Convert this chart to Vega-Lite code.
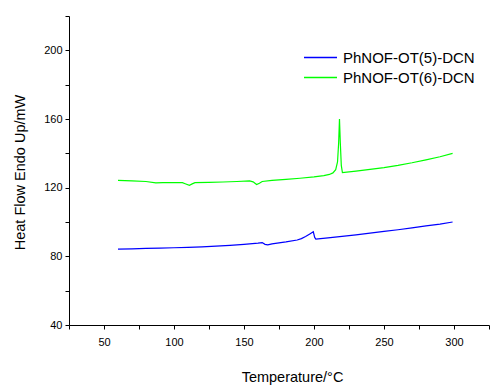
{
  "$schema": "https://vega.github.io/schema/vega-lite/v6.json",
  "width": 420,
  "height": 309,
  "autosize": {"type": "none"},
  "padding": {"left": 69, "top": 16, "right": 3, "bottom": 60},
  "background": "white",
  "config": {
    "view": {"stroke": null},
    "font": "Liberation Sans",
    "axis": {
      "grid": false,
      "domainColor": "#000000",
      "domainWidth": 1,
      "tickColor": "#000000",
      "tickSize": 4,
      "labelColor": "#000000",
      "labelFont": "Liberation Sans",
      "labelFontSize": 11,
      "titleFont": "Liberation Sans",
      "titleFontSize": 14.5,
      "titleFontWeight": "normal",
      "titleColor": "#000000"
    }
  },
  "data": {
    "values": [
      {"T": 60, "v": 84.2, "s": "PhNOF-OT(5)-DCN"},
      {"T": 70, "v": 84.4, "s": "PhNOF-OT(5)-DCN"},
      {"T": 80, "v": 84.6, "s": "PhNOF-OT(5)-DCN"},
      {"T": 90, "v": 84.8, "s": "PhNOF-OT(5)-DCN"},
      {"T": 100, "v": 85.0, "s": "PhNOF-OT(5)-DCN"},
      {"T": 110, "v": 85.2, "s": "PhNOF-OT(5)-DCN"},
      {"T": 120, "v": 85.5, "s": "PhNOF-OT(5)-DCN"},
      {"T": 130, "v": 85.9, "s": "PhNOF-OT(5)-DCN"},
      {"T": 140, "v": 86.4, "s": "PhNOF-OT(5)-DCN"},
      {"T": 150, "v": 87.0, "s": "PhNOF-OT(5)-DCN"},
      {"T": 160, "v": 87.7, "s": "PhNOF-OT(5)-DCN"},
      {"T": 163, "v": 88.0, "s": "PhNOF-OT(5)-DCN"},
      {"T": 165, "v": 87.0, "s": "PhNOF-OT(5)-DCN"},
      {"T": 167, "v": 86.7, "s": "PhNOF-OT(5)-DCN"},
      {"T": 170, "v": 87.3, "s": "PhNOF-OT(5)-DCN"},
      {"T": 180, "v": 88.4, "s": "PhNOF-OT(5)-DCN"},
      {"T": 188, "v": 89.5, "s": "PhNOF-OT(5)-DCN"},
      {"T": 191, "v": 90.3, "s": "PhNOF-OT(5)-DCN"},
      {"T": 194, "v": 91.5, "s": "PhNOF-OT(5)-DCN"},
      {"T": 197, "v": 93.0, "s": "PhNOF-OT(5)-DCN"},
      {"T": 199.5, "v": 94.3, "s": "PhNOF-OT(5)-DCN"},
      {"T": 200.5, "v": 91.0, "s": "PhNOF-OT(5)-DCN"},
      {"T": 201.3, "v": 90.0, "s": "PhNOF-OT(5)-DCN"},
      {"T": 210, "v": 90.8, "s": "PhNOF-OT(5)-DCN"},
      {"T": 220, "v": 91.6, "s": "PhNOF-OT(5)-DCN"},
      {"T": 230, "v": 92.5, "s": "PhNOF-OT(5)-DCN"},
      {"T": 240, "v": 93.5, "s": "PhNOF-OT(5)-DCN"},
      {"T": 250, "v": 94.5, "s": "PhNOF-OT(5)-DCN"},
      {"T": 260, "v": 95.5, "s": "PhNOF-OT(5)-DCN"},
      {"T": 270, "v": 96.6, "s": "PhNOF-OT(5)-DCN"},
      {"T": 280, "v": 97.7, "s": "PhNOF-OT(5)-DCN"},
      {"T": 290, "v": 98.8, "s": "PhNOF-OT(5)-DCN"},
      {"T": 299, "v": 100.0, "s": "PhNOF-OT(5)-DCN"},
      {"T": 60, "v": 124.2, "s": "PhNOF-OT(6)-DCN"},
      {"T": 70, "v": 124.0, "s": "PhNOF-OT(6)-DCN"},
      {"T": 80, "v": 123.6, "s": "PhNOF-OT(6)-DCN"},
      {"T": 87, "v": 122.8, "s": "PhNOF-OT(6)-DCN"},
      {"T": 92, "v": 122.9, "s": "PhNOF-OT(6)-DCN"},
      {"T": 100, "v": 123.0, "s": "PhNOF-OT(6)-DCN"},
      {"T": 106, "v": 122.9, "s": "PhNOF-OT(6)-DCN"},
      {"T": 108, "v": 122.3, "s": "PhNOF-OT(6)-DCN"},
      {"T": 111, "v": 121.4, "s": "PhNOF-OT(6)-DCN"},
      {"T": 113, "v": 122.2, "s": "PhNOF-OT(6)-DCN"},
      {"T": 115, "v": 122.9, "s": "PhNOF-OT(6)-DCN"},
      {"T": 125, "v": 123.1, "s": "PhNOF-OT(6)-DCN"},
      {"T": 135, "v": 123.3, "s": "PhNOF-OT(6)-DCN"},
      {"T": 145, "v": 123.6, "s": "PhNOF-OT(6)-DCN"},
      {"T": 154, "v": 124.0, "s": "PhNOF-OT(6)-DCN"},
      {"T": 156.5, "v": 123.4, "s": "PhNOF-OT(6)-DCN"},
      {"T": 159, "v": 121.8, "s": "PhNOF-OT(6)-DCN"},
      {"T": 161, "v": 122.6, "s": "PhNOF-OT(6)-DCN"},
      {"T": 163, "v": 123.6, "s": "PhNOF-OT(6)-DCN"},
      {"T": 170, "v": 124.2, "s": "PhNOF-OT(6)-DCN"},
      {"T": 180, "v": 124.8, "s": "PhNOF-OT(6)-DCN"},
      {"T": 190, "v": 125.5, "s": "PhNOF-OT(6)-DCN"},
      {"T": 200, "v": 126.3, "s": "PhNOF-OT(6)-DCN"},
      {"T": 207, "v": 127.0, "s": "PhNOF-OT(6)-DCN"},
      {"T": 211, "v": 127.7, "s": "PhNOF-OT(6)-DCN"},
      {"T": 213.5, "v": 128.6, "s": "PhNOF-OT(6)-DCN"},
      {"T": 215.5, "v": 130.5, "s": "PhNOF-OT(6)-DCN"},
      {"T": 216.8, "v": 135, "s": "PhNOF-OT(6)-DCN"},
      {"T": 217.6, "v": 146, "s": "PhNOF-OT(6)-DCN"},
      {"T": 218.2, "v": 160, "s": "PhNOF-OT(6)-DCN"},
      {"T": 218.8, "v": 146, "s": "PhNOF-OT(6)-DCN"},
      {"T": 219.5, "v": 133, "s": "PhNOF-OT(6)-DCN"},
      {"T": 220.3, "v": 128.8, "s": "PhNOF-OT(6)-DCN"},
      {"T": 230, "v": 129.6, "s": "PhNOF-OT(6)-DCN"},
      {"T": 240, "v": 130.6, "s": "PhNOF-OT(6)-DCN"},
      {"T": 250, "v": 131.7, "s": "PhNOF-OT(6)-DCN"},
      {"T": 260, "v": 133.0, "s": "PhNOF-OT(6)-DCN"},
      {"T": 270, "v": 134.5, "s": "PhNOF-OT(6)-DCN"},
      {"T": 280, "v": 136.2, "s": "PhNOF-OT(6)-DCN"},
      {"T": 290, "v": 138.0, "s": "PhNOF-OT(6)-DCN"},
      {"T": 299, "v": 140.0, "s": "PhNOF-OT(6)-DCN"}
    ]
  },
  "mark": {"type": "line", "strokeWidth": 1.2},
  "encoding": {
    "x": {
      "field": "T",
      "type": "quantitative",
      "scale": {"domain": [25, 325], "nice": false, "zero": false},
      "axis": {
        "values": [25, 50, 75, 100, 125, 150, 175, 200, 225, 250, 275, 300, 325],
        "labelExpr": "datum.value % 50 == 0 ? datum.label : ''",
        "labelPadding": 7,
        "title": "Temperature/°C",
        "titleX": 223,
        "titleY": 56,
        "titleAlign": "center",
        "titleBaseline": "alphabetic"
      }
    },
    "y": {
      "field": "v",
      "type": "quantitative",
      "scale": {"domain": [40, 220], "nice": false, "zero": false},
      "axis": {
        "values": [40, 60, 80, 100, 120, 140, 160, 180, 200, 220],
        "labelExpr": "datum.value % 40 == 0 ? datum.label : ''",
        "labelPadding": 3,
        "title": "Heat Flow Endo Up/mW",
        "titleX": -45,
        "titleY": 156,
        "titleAngle": -90,
        "titleAlign": "center",
        "titleBaseline": "alphabetic"
      }
    },
    "color": {
      "field": "s",
      "type": "nominal",
      "scale": {
        "domain": ["PhNOF-OT(5)-DCN", "PhNOF-OT(6)-DCN"],
        "range": ["#0000ff", "#00ff00"]
      },
      "legend": {
        "title": null,
        "orient": "none",
        "legendX": 244,
        "legendY": 34,
        "padding": 0,
        "symbolType": "M-3,0H3",
        "symbolSize": 121,
        "symbolStrokeWidth": 1.5,
        "labelFont": "Liberation Sans",
        "labelFontSize": 15,
        "labelColor": "#000000",
        "labelOffset": 15,
        "rowPadding": 4
      }
    }
  }
}
